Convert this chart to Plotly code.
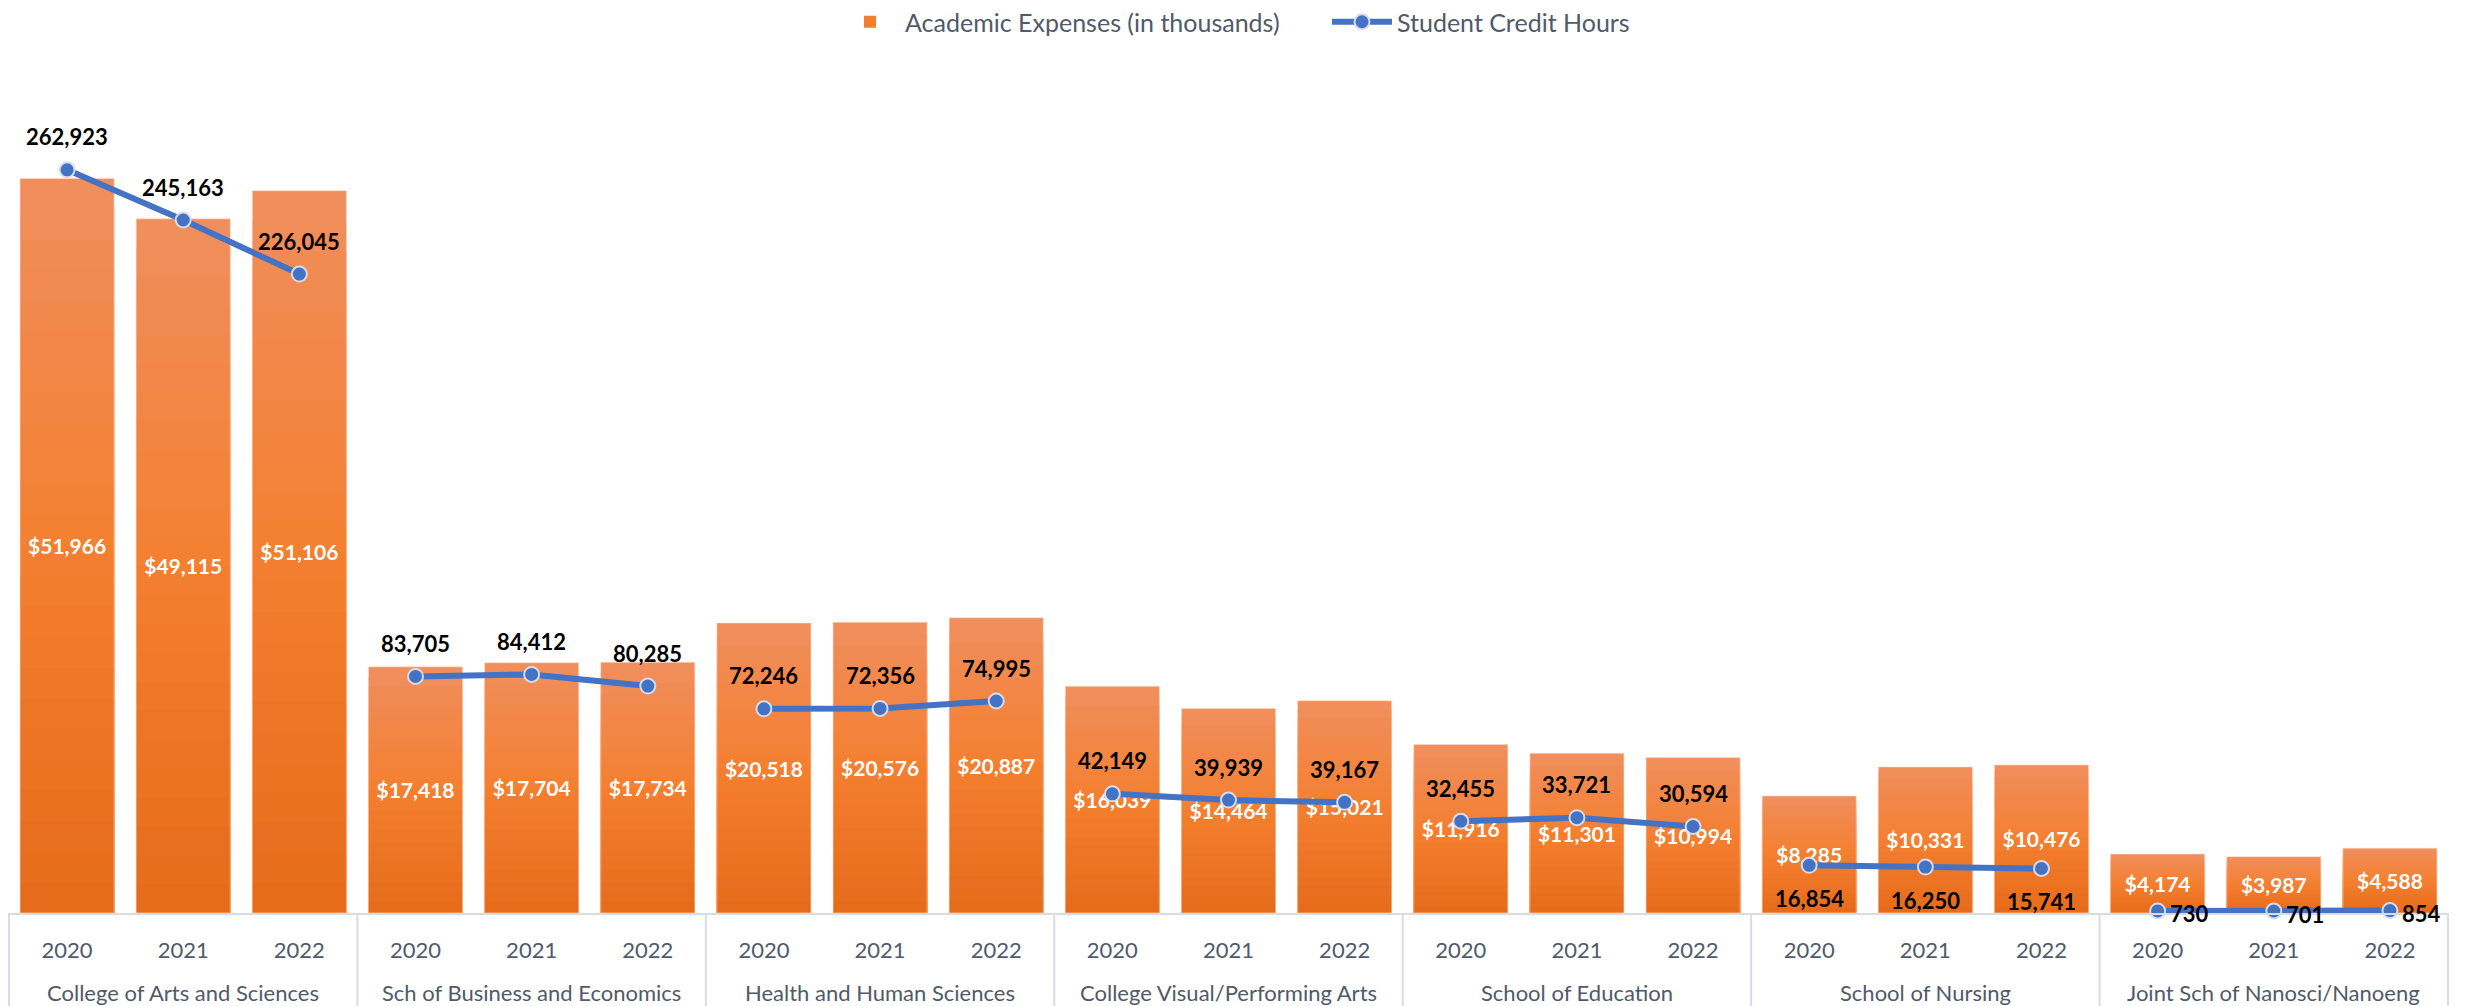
import plotly.graph_objects as go

colleges = [
    "College of Arts and Sciences",
    "Sch of Business and Economics",
    "Health and Human Sciences",
    "College Visual/Performing Arts",
    "School of Education",
    "School of Nursing",
    "Joint Sch of Nanosci/Nanoeng",
]
years = ["2020", "2021", "2022"]

expenses = [
    51966, 49115, 51106,
    17418, 17704, 17734,
    20518, 20576, 20887,
    16039, 14464, 15021,
    11916, 11301, 10994,
    8285, 10331, 10476,
    4174, 3987, 4588,
]
credit_hours = [
    262923, 245163, 226045,
    83705, 84412, 80285,
    72246, 72356, 74995,
    42149, 39939, 39167,
    32455, 33721, 30594,
    16854, 16250, 15741,
    730, 701, 854,
]

ny = len(years)
n = len(colleges) * ny
xs = list(range(n))
tick_text = [y for _ in colleges for y in years]

# label placement per group: (xshift, yshift, xanchor)
label_place = [(0, 33, "center")] * 5 + [(0, -33, "center"), (10, -3, "left")]

fig = go.Figure()

# gradient effect: overlay of progressively shorter, darker layers
def lerp(c1, c2, t):
    return "#%02x%02x%02x" % tuple(round(a + (b - a) * t) for a, b in zip(c1, c2))

top_c = (240, 142, 92)
mid_c = (244, 127, 48)
bot_c = (230, 108, 27)
N = 24
for k in range(N):
    t = k / (N - 1)
    col = lerp(top_c, mid_c, t * 2) if t < 0.5 else lerp(mid_c, bot_c, (t - 0.5) * 2)
    frac = 1 - k / N
    fig.add_trace(go.Bar(
        x=xs,
        y=[v * frac for v in expenses],
        marker=dict(color=col, line=dict(width=0)),
        name="Academic Expenses (in thousands)",
        showlegend=(k == N // 2),
        legendgroup="exp",
        legendrank=1,
        hoverinfo="skip",
    ))

# label layer
fig.add_trace(go.Bar(
    x=xs,
    y=expenses,
    marker=dict(color="rgba(0,0,0,0)", line=dict(color="rgba(255,220,200,0.6)", width=1)),
    texttemplate="<b>$%{y:,}</b>",
    textposition="inside",
    insidetextanchor="middle",
    textfont=dict(family="Lato", size=21, color="white"),
    constraintext="none",
    showlegend=False,
    legendgroup="exp",
    name="Academic Expenses (in thousands)",
))

annotations = []
for gi, c in enumerate(colleges):
    sl = slice(gi * ny, gi * ny + ny)
    fig.add_trace(go.Scatter(
        x=xs[sl],
        y=credit_hours[sl],
        yaxis="y2",
        mode="lines+markers",
        line=dict(color="#4472C4", width=6),
        marker=dict(color="#4472C4", size=15, line=dict(color="#D6DCE8", width=2)),
        name="Student Credit Hours",
        legendgroup="sch",
        showlegend=(gi == 0),
        legendrank=2,
        cliponaxis=False,
    ))
    dx, dy, anc = label_place[gi]
    for xi, v in zip(xs[sl], credit_hours[sl]):
        annotations.append(dict(
            x=xi, y=v, xref="x", yref="y2",
            text="<b>{:,}</b>".format(v),
            showarrow=False, xshift=dx, yshift=dy, xanchor=anc, yanchor="middle",
            font=dict(family="Lato", size=22, color="black"),
        ))
    # group label under the year labels
    annotations.append(dict(
        x=xs[sl][ny // 2], y=0, xref="x", yref="paper",
        text=c, showarrow=False, yshift=-79, yanchor="middle",
        font=dict(family="Lato", size=22, color="#505A6A"),
    ))

shapes = []
for gi in range(len(colleges) + 1):
    xp = gi * ny / n
    shapes.append(dict(
        type="line", xref="paper", yref="paper",
        x0=xp, x1=xp, y0=0, y1=-93 / 848,
        line=dict(color="#D9DDE3", width=2),
    ))

fig.update_layout(
    template="none",
    width=2465,
    height=1006,
    barmode="overlay",
    bargap=0.19,
    paper_bgcolor="white",
    plot_bgcolor="white",
    margin=dict(l=9, r=17, t=65, b=93, autoexpand=False),
    font=dict(family="Lato", color="#505A6A", size=20),
    xaxis=dict(
        range=[-0.5, n - 0.5],
        tickmode="array",
        tickvals=xs,
        ticktext=tick_text,
        showline=True,
        linecolor="#D9DDE3",
        linewidth=2,
        ticks="",
        ticklabelstandoff=17,
        showgrid=False,
        zeroline=False,
        automargin=False,
        tickfont=dict(family="Lato", size=22, color="#505A6A"),
    ),
    yaxis=dict(range=[0, 60000], visible=False, showgrid=False, automargin=False),
    yaxis2=dict(range=[0, 300000], overlaying="y", visible=False, showgrid=False, automargin=False),
    legend=dict(
        orientation="h",
        xref="container", x=835 / 2465, xanchor="left",
        yref="container", y=1 - 22 / 1006, yanchor="middle",
        font=dict(family="Lato", size=25, color="#505A6A"),
        traceorder="normal",
        entrywidth=417,
        itemwidth=60,
        bgcolor="rgba(0,0,0,0)",
    ),
    annotations=annotations,
    shapes=shapes,
)

fig.write_html("out.html")
